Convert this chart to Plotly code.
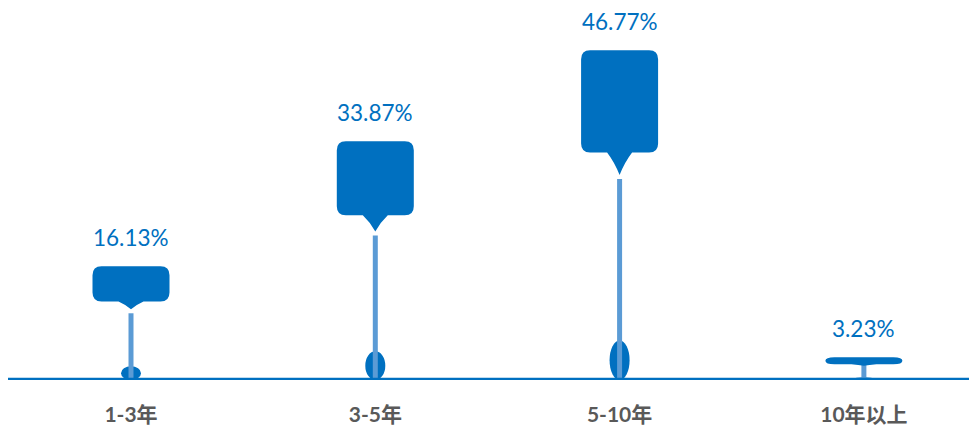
import plotly.graph_objects as go

categories = ["1-3年", "3-5年", "5-10年", "10年以上"]
values = [16.13, 33.87, 46.77, 3.23]
value_labels = ["16.13%", "33.87%", "46.77%", "3.23%"]

# page body adds an 8px offset, so the figure covers the rest of the 977x427 window
W, H = 969, 419
ml, mr, mt, mb = 0, 0, 0, 47
x_range = [-0.5035, 3.463]
y_range = [0, 52.77]
px_x = (W - ml - mr) / (x_range[1] - x_range[0])
px_y = (H - mt - mb) / (y_range[1] - y_range[0])


def dx(p):
    return p / px_x


def dy(p):
    return p / px_y


BOX = "#0070C0"
STICK = "#5B9BD5"
FONT = "Lato, Noto Sans CJK SC, sans-serif"

shapes = []
for i, v in enumerate(values):
    top = v
    box_h = 0.31 * v
    bot = top - box_h
    pd = 0.068 * v
    hw = dx(77) / 2
    rx = dx(9)
    ry = min(dy(9), box_h / 2)
    pw = dx(25) / 2
    x0, x1 = i - hw, i + hw
    path = (
        f"M {x0 + rx},{top} L {x1 - rx},{top} Q {x1},{top} {x1},{top - ry} "
        f"L {x1},{bot + ry} Q {x1},{bot} {x1 - rx},{bot} "
        f"L {i + pw},{bot} Q {i + pw * 0.42},{bot - pd * 0.42} {i},{bot - pd} "
        f"Q {i - pw * 0.42},{bot - pd * 0.42} {i - pw},{bot} "
        f"L {x0 + rx},{bot} Q {x0},{bot} {x0},{bot + ry} "
        f"L {x0},{top - ry} Q {x0},{top} {x0 + rx},{top} Z"
    )
    # foot ellipse
    eh = 0.12 * v
    ew = dx(20) / 2
    shapes.append(dict(type="circle", xref="x", yref="y", x0=i - ew, x1=i + ew,
                       y0=0, y1=eh, fillcolor=BOX, line=dict(width=0), layer="above"))
    # stick
    stick_top = bot - pd - dy(4) if v > 10 else bot
    shapes.append(dict(type="line", xref="x", yref="y", x0=i, x1=i, y0=0, y1=stick_top,
                       line=dict(color=STICK, width=5), layer="above"))
    # callout box
    shapes.append(dict(type="path", xref="x", yref="y", path=path, fillcolor=BOX,
                       line=dict(width=0), layer="above"))

# baseline
shapes.append(dict(type="line", xref="paper", yref="y", x0=0, x1=1, y0=0, y1=0,
                   line=dict(color=BOX, width=4.5), layer="above"))

annotations = []
for i, (v, t) in enumerate(zip(values, value_labels)):
    annotations.append(dict(x=i, y=v, xref="x", yref="y", text=t, showarrow=False,
                            yanchor="bottom", yshift=13,
                            font=dict(family=FONT, size=22.5, color=BOX)))

fig = go.Figure()
fig.add_trace(go.Scatter(x=list(range(len(values))), y=values, mode="markers",
                         marker=dict(opacity=0), hoverinfo="skip", showlegend=False))

fig.update_layout(
    width=W, height=H,
    margin=dict(l=ml, r=mr, t=mt, b=mb),
    paper_bgcolor="white", plot_bgcolor="white",
    shapes=shapes, annotations=annotations,
    xaxis=dict(range=x_range, tickmode="array", tickvals=list(range(len(categories))),
               ticktext=[f"<b>{c}</b>" for c in categories], showgrid=False, zeroline=False,
               showline=False, ticks="", ticklabelstandoff=20, automargin=False,
               tickfont=dict(family=FONT, size=21, color="#595959")),
    yaxis=dict(range=y_range, visible=False, showgrid=False, zeroline=False),
)

fig.write_html("out.html")
